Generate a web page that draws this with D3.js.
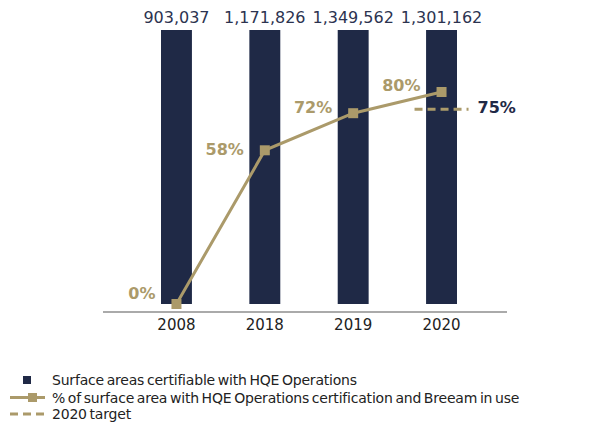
<!DOCTYPE html>
<html>
<head>
<meta charset="utf-8">
<script src="https://cdn.jsdelivr.net/npm/d3@7"></script>
<style>
  body { margin: 0; background: #fff; }
  svg { font-family: "DejaVu Sans", sans-serif; }
</style>
</head>
<body>
<svg id="chart" width="615" height="424"></svg>
<script>
// chart data
const years = ["2008", "2018", "2019", "2020"];
const areas = [903037, 1171826, 1349562, 1301162];
const shares = [0, 58, 72, 80];
const target = 75;
const legendLabels = [
  "Surface areas certifiable with HQE Operations",
  "% of surface area with HQE Operations certification and Breeam in use",
  "2020 target"
];

const navy = "#1f2946";
const gold = "#ab9a6a";

let svg = d3.select("#chart");

let canvas = {"barTop": 30, "base": 304, "axisY": 312};

let xScale = d3.scaleBand()
  .domain(years)
  .range([161, 457])
  .paddingInner(0.65)
  .paddingOuter(0);

let yScale = d3.scaleLinear()
  .domain([0, 100])
  .range([canvas.base, 39]);

let fmt = d3.format(",");

// columns (all drawn full height, as in the source)
svg.selectAll(".bar")
  .data(areas)
  .join("rect")
  .attr("class", "bar")
  .attr("x", (d, i) => xScale(years[i]))
  .attr("width", xScale.bandwidth())
  .attr("y", canvas.barTop)
  .attr("height", canvas.base - canvas.barTop)
  .attr("fill", navy);

svg.selectAll(".areatext")
  .data(areas)
  .join("text")
  .attr("class", "areatext")
  .attr("x", (d, i) => xScale(years[i]) + xScale.bandwidth() / 2)
  .attr("y", 17)
  .attr("text-anchor", "middle")
  .attr("dominant-baseline", "central")
  .attr("font-size", 16)
  .attr("fill", "#2c3350")
  .text(d => fmt(d));

// baseline
svg.append("line")
  .attr("x1", 103)
  .attr("x2", 507)
  .attr("y1", canvas.axisY)
  .attr("y2", canvas.axisY)
  .attr("stroke", "#aaaaaa")
  .attr("stroke-width", 2);

let xAxis = d3.axisBottom(xScale).tickSize(0).tickPadding(7);
let gx = svg.append("g")
  .attr("transform", `translate(0, ${canvas.axisY})`)
  .call(xAxis);
gx.select(".domain").remove();
gx.selectAll("text")
  .attr("font-size", 15)
  .attr("font-family", "DejaVu Sans, sans-serif")
  .attr("fill", "#222");

// target dashed line
let cx = i => xScale(years[i]) + xScale.bandwidth() / 2;
svg.append("line")
  .attr("x1", cx(3) - 27)
  .attr("x2", cx(3) + 27)
  .attr("y1", yScale(target) + 4)
  .attr("y2", yScale(target) + 4)
  .attr("stroke", gold)
  .attr("stroke-width", 3)
  .attr("stroke-dasharray", "8,5");

svg.append("text")
  .attr("x", cx(3) + 36)
  .attr("y", yScale(target) + 2)
  .attr("dominant-baseline", "central")
  .attr("font-size", 16)
  .attr("font-weight", "bold")
  .attr("fill", navy)
  .text(target + "%");

// share line
let line = d3.line()
  .x((d, i) => cx(i))
  .y(d => yScale(d));

svg.append("path")
  .datum(shares)
  .attr("d", line)
  .attr("fill", "none")
  .attr("stroke", gold)
  .attr("stroke-width", 3);

svg.selectAll(".marker")
  .data(shares)
  .join("rect")
  .attr("class", "marker")
  .attr("x", (d, i) => cx(i) - 5)
  .attr("y", d => yScale(d) - 5)
  .attr("width", 10)
  .attr("height", 10)
  .attr("fill", gold);

const labelDy = [-11, -1, -6, -7];
svg.selectAll(".sharetext")
  .data(shares)
  .join("text")
  .attr("class", "sharetext")
  .attr("x", (d, i) => cx(i) - 21)
  .attr("y", (d, i) => yScale(d) + labelDy[i])
  .attr("text-anchor", "end")
  .attr("dominant-baseline", "central")
  .attr("font-size", 16)
  .attr("font-weight", "bold")
  .attr("fill", gold)
  .text(d => d + "%");

// legend
let legend = svg.append("g");
let legendY = [380, 397.5, 414];

legend.append("rect")
  .attr("x", 23).attr("y", legendY[0] - 4)
  .attr("width", 8).attr("height", 8)
  .attr("fill", navy);

legend.append("line")
  .attr("x1", 10).attr("x2", 45)
  .attr("y1", legendY[1]).attr("y2", legendY[1])
  .attr("stroke", gold).attr("stroke-width", 3);
legend.append("rect")
  .attr("x", 28).attr("y", legendY[1] - 4.5)
  .attr("width", 9).attr("height", 9)
  .attr("fill", gold);

legend.append("line")
  .attr("x1", 10).attr("x2", 45)
  .attr("y1", legendY[2]).attr("y2", legendY[2])
  .attr("stroke", gold).attr("stroke-width", 3)
  .attr("stroke-dasharray", "8,5");

legend.selectAll(".legendtext")
  .data(legendLabels)
  .join("text")
  .attr("class", "legendtext")
  .attr("x", 52)
  .attr("y", (d, i) => legendY[i])
  .attr("dominant-baseline", "central")
  .attr("font-size", 14)
  .attr("letter-spacing", -0.2)
  .attr("word-spacing", -1.5)
  .attr("fill", "#222")
  .text(d => d);
</script>
</body>
</html>
